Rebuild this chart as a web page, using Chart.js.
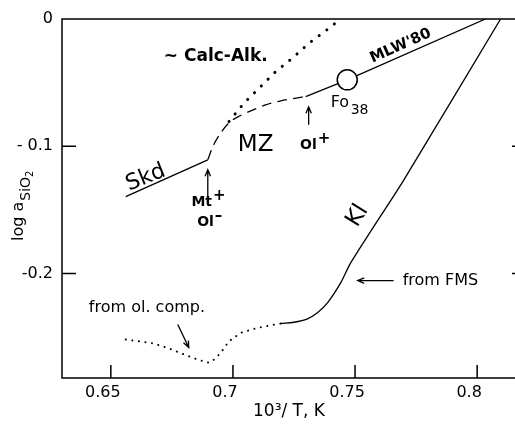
<!DOCTYPE html>
<html>
<head>
<meta charset="utf-8">
<script src="https://cdn.jsdelivr.net/npm/chart.js@4.4.0/dist/chart.umd.min.js"></script>
<style>
body { margin: 0; background: #fff; }
.wrap { width: 515px; height: 425px; overflow: hidden; }
</style>
</head>
<body>
<div class="wrap"><canvas id="chart" width="530" height="425"></canvas></div>
<script>
// curves, x = 10^3/T, y = log aSiO2
var skdX = [0.6561, 0.6897];
var skdY = [-0.1396, -0.1106];

var mzX = [0.6897, 0.6921, 0.6950, 0.6983, 0.7020, 0.7073, 0.7134, 0.7196, 0.7265, 0.7298];
var mzY = [-0.1106, -0.0988, -0.0894, -0.0816, -0.0769, -0.0722, -0.0675, -0.0643, -0.0620, -0.0609];

var mlwX = [0.7298, 0.7468, 0.8034];
var mlwY = [-0.0609, -0.0478, 0];

var fo38X = [0.7468];
var fo38Y = [-0.0478];

var calcX = [0.6984, 0.7045, 0.7107, 0.7175, 0.7243, 0.7311, 0.7393, 0.7427];
var calcY = [-0.0805, -0.0661, -0.0544, -0.0413, -0.0308, -0.0191, -0.0073, -0.0021];

var kiX = [0.7196, 0.7250, 0.7305, 0.7346, 0.7387, 0.7441, 0.7482, 0.7577, 0.7700, 0.8096];
var kiY = [-0.2392, -0.2382, -0.2355, -0.2308, -0.2230, -0.2073, -0.1916, -0.1629, -0.1263, 0];

var olX = [0.6561, 0.6664, 0.6732, 0.6800, 0.6855, 0.6902, 0.6923, 0.6950, 0.6984, 0.7032, 0.7100, 0.7196];
var olY = [-0.2518, -0.2544, -0.2583, -0.2635, -0.2675, -0.2700, -0.2675, -0.2622, -0.2531, -0.2465, -0.2426, -0.2392];

var xTicks = [0.65, 0.7, 0.75, 0.8];
var xTickLabels = ['0.65', '0.7', '0.75', '0.8'];
var yTicks = [0, -0.1, -0.2];
var yTickLabels = ['0', '- 0.1', '-0.2'];

function pts(xs, ys) {
    return xs.map(function (x, i) { return { x: x, y: ys[i] }; });
}

var FONT = '"DejaVu Sans", sans-serif';
Chart.defaults.font.family = FONT;
Chart.defaults.color = '#000';

function line(xs, ys, extra) {
    var d = {
        data: pts(xs, ys),
        showLine: true,
        borderColor: '#000',
        borderWidth: 1.3,
        pointRadius: 0,
        fill: false,
        tension: 0
    };
    for (var k in extra) d[k] = extra[k];
    return d;
}

// text labels and arrows, placed in data units
function txt(c, xs, ys, s, x, y, font, align, rot) {
    c.save();
    c.translate(xs.getPixelForValue(x), ys.getPixelForValue(y));
    if (rot) c.rotate(rot * Math.PI / 180);
    c.font = font;
    c.textAlign = align || 'center';
    c.textBaseline = 'middle';
    c.fillText(s, 0, 0);
    c.restore();
}

// text with a raised sign after it (Mt+, Ol-)
function supTxt(c, xs, ys, s, sup, x, y) {
    c.save();
    c.translate(xs.getPixelForValue(x), ys.getPixelForValue(y));
    c.textBaseline = 'middle';
    c.textAlign = 'left';
    c.font = 'bold 14px ' + FONT;
    var w = c.measureText(s).width;
    c.font = 'bold 15px ' + FONT;
    var w2 = c.measureText(sup).width;
    var x0 = -(w + w2) / 2;
    c.font = 'bold 14px ' + FONT;
    c.fillText(s, x0, 0);
    c.font = 'bold 15px ' + FONT;
    c.fillText(sup, x0 + w + 1, -6);
    c.restore();
}

function arrow(c, xs, ys, x1, y1, x2, y2) {
    var ax = xs.getPixelForValue(x1), ay = ys.getPixelForValue(y1);
    var bx = xs.getPixelForValue(x2), by = ys.getPixelForValue(y2);
    var ang = Math.atan2(by - ay, bx - ax);
    var h = 7;
    c.beginPath();
    c.moveTo(ax, ay);
    c.lineTo(bx, by);
    c.moveTo(bx - h * Math.cos(ang - 0.4), by - h * Math.sin(ang - 0.4));
    c.lineTo(bx, by);
    c.lineTo(bx - h * Math.cos(ang + 0.4), by - h * Math.sin(ang + 0.4));
    c.stroke();
}

var decor = {
    id: 'decor',
    afterDraw: function (chart) {
        var c = chart.ctx, a = chart.chartArea;
        var xs = chart.scales.x, ys = chart.scales.y;
        c.save();
        c.strokeStyle = '#000';
        c.fillStyle = '#000';
        c.lineWidth = 1.5;
        c.beginPath();
        c.moveTo(a.right, a.bottom);
        c.lineTo(a.left, a.bottom);
        c.lineTo(a.left, a.top);
        c.lineTo(a.right, a.top);
        c.lineTo(a.right, a.bottom);
        xTicks.forEach(function (v) {
            var p = xs.getPixelForValue(v);
            c.moveTo(p, a.bottom);
            c.lineTo(p, a.bottom - 13);
        });
        yTicks.forEach(function (v) {
            var p = ys.getPixelForValue(v);
            c.moveTo(a.left, p);
            c.lineTo(a.left + 14, p);
            c.moveTo(a.right, p);
            c.lineTo(a.right - 14, p);
        });
        c.stroke();

        // axis titles
        c.font = '17px ' + FONT;
        c.textAlign = 'center';
        c.textBaseline = 'middle';
        c.fillText('10\u00b3/ T, K', 289, 412);

        c.save();
        c.translate(23, 241);
        c.rotate(-Math.PI / 2);
        c.textAlign = 'left';
        c.textBaseline = 'alphabetic';
        c.font = '16px ' + FONT;
        c.fillText('log a', 0, 0);
        var w = c.measureText('log a').width;
        c.font = '14px ' + FONT;
        c.fillText('SiO', w + 1, 7);
        var w2 = c.measureText('SiO').width;
        c.font = '10px ' + FONT;
        c.fillText('2', w + 1 + w2, 10);
        c.restore();

        // curve labels
        txt(c, xs, ys, '~ Calc-Alk.', 0.6717, -0.0298, 'bold 17px ' + FONT, 'left');
        txt(c, xs, ys, 'Skd', 0.6643, -0.1247, '22px ' + FONT, 'center', -22);
        txt(c, xs, ys, 'MZ', 0.7093, -0.0988, '23px ' + FONT, 'center');
        supTxt(c, xs, ys, 'Mt', '+', 0.6898, -0.1440);
        supTxt(c, xs, ys, 'Ol', '\u2013', 0.6903, -0.1595);
        supTxt(c, xs, ys, 'Ol', '+', 0.7335, -0.0990);
        txt(c, xs, ys, 'Fo', 0.7400, -0.0660, '16px ' + FONT, 'left');
        txt(c, xs, ys, '38', 0.7482, -0.0715, '14px ' + FONT, 'left');
        txt(c, xs, ys, "MLW'80", 0.7687, -0.0212, 'bold 15px ' + FONT, 'center', -24);
        txt(c, xs, ys, 'Kl', 0.7511, -0.1545, '23px ' + FONT, 'center', -58);
        txt(c, xs, ys, 'from FMS', 0.7695, -0.2055, '16px ' + FONT, 'left');
        txt(c, xs, ys, 'from ol. comp.', 0.6410, -0.2267, '16px ' + FONT, 'left');

        c.lineWidth = 1.3;
        arrow(c, xs, ys, 0.6897, -0.1396, 0.6897, -0.1184);
        arrow(c, xs, ys, 0.7310, -0.0831, 0.7310, -0.0690);
        arrow(c, xs, ys, 0.7658, -0.2055, 0.7511, -0.2055);
        arrow(c, xs, ys, 0.6774, -0.2400, 0.6819, -0.2580);
        c.restore();
    }
};

var ctx = document.getElementById('chart').getContext('2d');
var myChart = new Chart(ctx, {
    type: 'scatter',
    data: {
        datasets: [
            {
                data: pts(fo38X, fo38Y),
                pointRadius: 10,
                pointBackgroundColor: '#fff',
                pointBorderColor: '#000',
                pointBorderWidth: 1.5,
                order: -1
            },
            line(skdX, skdY, {}),
            line(mzX, mzY, { borderDash: [10, 6], tension: 0.3 }),
            line(mlwX, mlwY, {}),
            line(calcX, calcY, { borderWidth: 3, borderDash: [0.1, 9.5], borderCapStyle: 'round' }),
            line(kiX, kiY, { tension: 0.3 }),
            line(olX, olY, { borderWidth: 2, borderDash: [0.1, 6.5], borderCapStyle: 'round' })
        ]
    },
    options: {
        responsive: false,
        animation: false,
        layout: { autoPadding: false, padding: { left: 0, top: 19, right: 4, bottom: 0 } },
        plugins: { legend: { display: false }, tooltip: { enabled: false } },
        scales: {
            x: {
                type: 'linear',
                min: 0.63,
                max: 0.82,
                grid: { display: false, drawTicks: false },
                border: { display: false },
                afterBuildTicks: function (s) { s.ticks = xTicks.map(function (v) { return { value: v }; }); },
                afterFit: function (s) { s.height = 47; s.paddingLeft = 0; s.paddingRight = 0; },
                ticks: {
                    padding: 5,
                    labelOffset: -8,
                    autoSkip: false,
                    maxRotation: 0,
                    font: { size: 16 },
                    callback: function (v, i) { return xTickLabels[i]; }
                }
            },
            y: {
                type: 'linear',
                min: -0.282,
                max: 0,
                grid: { display: false, drawTicks: false },
                border: { display: false },
                afterBuildTicks: function (s) { s.ticks = yTicks.map(function (v) { return { value: v }; }); },
                afterFit: function (s) { s.width = 62; s.paddingTop = 0; s.paddingBottom = 0; },
                ticks: {
                    padding: 9,
                    autoSkip: false,
                    font: { size: 16 },
                    callback: function (v, i) { return yTickLabels[i]; }
                }
            }
        }
    },
    plugins: [decor]
});
</script>
</body>
</html>
